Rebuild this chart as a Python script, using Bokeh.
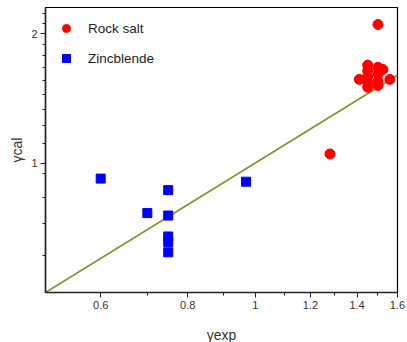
from bokeh.plotting import figure
from bokeh.models import FixedTicker, CustomJSTickFormatter, Legend, LegendItem
from bokeh.embed import file_html
from bokeh.resources import INLINE

# Data
rock_x = [1.50, 1.28, 1.41, 1.45, 1.45, 1.45, 1.45, 1.45, 1.50, 1.50, 1.50, 1.50, 1.525, 1.56]
rock_y = [2.10, 1.05, 1.565, 1.69, 1.64, 1.59, 1.54, 1.50, 1.67, 1.61, 1.55, 1.515, 1.65, 1.565]
zinc_x = [0.60, 0.70, 0.75, 0.75, 0.75, 0.75, 0.75, 0.97]
zinc_y = [0.92, 0.765, 0.865, 0.755, 0.675, 0.655, 0.62, 0.905]
line_x = [0.5, 1.6]
line_y = [0.5, 1.6]

x_ticks = [0.6, 0.8, 1, 1.2, 1.4, 1.6]
x_minor = [0.7, 0.9, 1.1, 1.3, 1.5]
y_ticks = [1, 2]
y_minor = [0.5 + k / 9 for k in range(1, 5)] + [1 + k / 9 for k in range(1, 9)] + [2 + k / 9 for k in range(1, 3)]

FONT = "Liberation Sans"

p = figure(width=407, height=342, frame_width=352, frame_height=285,
           x_axis_type="log", y_axis_type="log",
           x_range=(0.5, 1.6), y_range=(0.5, 2.3),
           output_backend="svg", toolbar_location=None,
           min_border_left=45, min_border_right=10, min_border_top=7, min_border_bottom=50)

p.xgrid.visible = False
p.ygrid.visible = False
p.outline_line_color = "black"
p.outline_line_width = 1.2

p.line(line_x, line_y, line_color="#8b8b2a", line_width=1.6)
r1 = p.scatter(rock_x, rock_y, marker="circle", size=10, fill_color="#ff0000", line_color="#ff0000")
r2 = p.scatter(zinc_x, zinc_y, marker="square", size=9, fill_color="#0000ff", line_color="#0000ff")

fmt = CustomJSTickFormatter(code="return tick.toString();")
p.xaxis.ticker = FixedTicker(ticks=x_ticks, minor_ticks=x_minor)
p.yaxis.ticker = FixedTicker(ticks=y_ticks, minor_ticks=y_minor)
for ax in (p.xaxis[0], p.yaxis[0]):
    ax.formatter = fmt
    ax.major_tick_in = 0
    ax.major_tick_out = 5
    ax.minor_tick_in = 0
    ax.minor_tick_out = 3
    ax.axis_line_width = 1.5
    ax.axis_line_color = "#222222"
    ax.major_tick_line_color = "#222222"
    ax.minor_tick_line_color = "#222222"
    ax.major_label_text_font = FONT
    ax.major_label_text_font_size = "11px"
    ax.major_label_text_color = "#333333"
    ax.axis_label_text_font = FONT
    ax.axis_label_text_font_style = "normal"
    ax.axis_label_text_font_size = "14px"
    ax.axis_label_text_color = "#333333"

p.xaxis.axis_label = "γexp"
p.yaxis.axis_label = "γcal"
p.xaxis.major_label_standoff = 3
p.xaxis.axis_label_standoff = 15
p.yaxis.major_label_standoff = 3
p.yaxis.axis_label_standoff = 3

legend = Legend(items=[LegendItem(label="Rock salt", renderers=[r1]),
                       LegendItem(label="Zincblende", renderers=[r2])],
                location="top_left", margin=11, padding=10,
                glyph_width=20, glyph_height=20, label_height=20,
                label_standoff=12, spacing=10,
                border_line_color=None, background_fill_alpha=0,
                label_text_font=FONT, label_text_font_size="13.5px",
                label_text_color="#222222")
p.add_layout(legend)

open("out.html", "w").write(file_html(p, INLINE))
